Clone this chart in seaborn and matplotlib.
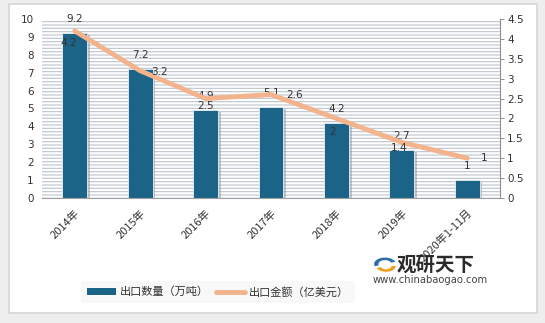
import matplotlib
matplotlib.use('Agg')
import matplotlib.pyplot as plt
import matplotlib.patheffects as pe
import seaborn as sns
import numpy as np
import pandas as pd
from matplotlib.patches import Rectangle, Patch, Wedge
from matplotlib.lines import Line2D

categories = ['2014年', '2015年', '2016年', '2017年', '2018年', '2019年', '2020年1-11月']
volume = [9.2, 7.2, 4.9, 5.1, 4.2, 2.7, 1]
amount = [4.2, 3.2, 2.5, 2.6, 2, 1.4, 1]
left_ticks = [0, 1, 2, 3, 4, 5, 6, 7, 8, 9, 10]
right_ticks = [0, 0.5, 1, 1.5, 2, 2.5, 3, 3.5, 4, 4.5]
legend_labels = ['出口数量（万吨）', '出口金额（亿美元）']

BAR = '#1b6387'
LINE = '#f3b48d'
TXT = '#333333'

sns.set_theme(style='white')
plt.rcParams['font.family'] = ['Noto Sans CJK SC', 'DejaVu Sans']
plt.rcParams['hatch.linewidth'] = 0.8
plt.rcParams['hatch.color'] = '#bcc4ce'

fig = plt.figure(figsize=(5.45, 3.23), dpi=100)
fig.patch.set_facecolor('#eeeeee')
W, H = 545, 323
fig.add_artist(Rectangle((9 / W, 1 - 313 / H), (537 - 9) / W, (313 - 4) / H,
                         transform=fig.transFigure, facecolor='white',
                         edgecolor='#d6d6d6', lw=1.2, zorder=0))

ax = fig.add_axes([42 / W, 1 - 198 / H, (500 - 42) / W, (198 - 19) / H])
ax.set_facecolor('none')
ax.add_patch(Rectangle((0, 0), 1, 1, transform=ax.transAxes, facecolor='white',
                       hatch='-----', edgecolor='#bcc4ce', lw=0, zorder=-5))

df = pd.DataFrame({'cat': categories, 'volume': volume, 'amount': amount})
sns.barplot(data=df, x='cat', y='volume', color=BAR, saturation=1, width=0.38,
            ax=ax, zorder=2)
for p in ax.patches:
    if p.get_height() > 0 and p.get_width() < 1:
        p.set_path_effects([pe.SimplePatchShadow(offset=(2, -1.5), shadow_rgbFace='#7d8a96', alpha=0.45), pe.Normal()])
        p.set_edgecolor('#e8f0f5')
        p.set_linewidth(0.6)

ax.set_ylim(0, 10)
ax.set_xlim(-0.5, len(categories) - 0.5)
ax.set_yticks(left_ticks)
ax.set_yticklabels([str(t) for t in left_ticks], fontsize=7.5, color=TXT, family='DejaVu Sans')
ax.set_xlabel('')
ax.set_ylabel('')
ax.tick_params(axis='y', length=0, pad=6)
ax.tick_params(axis='x', length=0, pad=7)
ax.set_xticks(range(len(categories)))
ax.set_xticklabels(categories, rotation=45, ha='right', rotation_mode='anchor',
                   fontsize=8, color=TXT)
for s in ['left', 'top', 'right']:
    ax.spines[s].set_visible(False)
ax.spines['bottom'].set_color('#a0a0a0')
ax.spines['bottom'].set_linewidth(0.8)

for i, v in enumerate(volume):
    ax.annotate(f'{v:g}', (i, v), xytext=(0, 10), textcoords='offset points',
                ha='center', va='center', fontsize=7.5, color=TXT, family='DejaVu Sans', zorder=6)

ax2 = ax.twinx()
x = np.arange(len(categories))
sns.lineplot(x=x, y=amount, ax=ax2, color=LINE, lw=3.5, sort=False, zorder=4)
ax2.set_ylim(0, 4.5)
ax2.set_yticks(right_ticks)
ax2.set_yticklabels([f'{t:g}' for t in right_ticks], fontsize=7.5, color=TXT, family='DejaVu Sans')
ax2.tick_params(axis='y', length=3, width=0.7, color='#909090', pad=2, direction='out')
for s in ['left', 'top', 'bottom']:
    ax2.spines[s].set_visible(False)
ax2.spines['right'].set_color('#909090')
ax2.spines['right'].set_linewidth(0.8)
ax2.set_ylabel('')

offsets = [(-4, -9), (14, -1), (0, -5.5), (17, 0), (-3, -9.5), (-2, -4), (12, 0)]
for i, (v, o) in enumerate(zip(amount, offsets)):
    ax2.annotate(f'{v:g}', (i, v), xytext=o, textcoords='offset points',
                 ha='center', va='center', fontsize=7.5, color=TXT, family='DejaVu Sans', zorder=6)

handles = [Patch(facecolor=BAR, edgecolor='none'), Line2D([], [], color=LINE, lw=3.5)]
leg = fig.legend(handles, legend_labels, loc='center', bbox_to_anchor=(218 / W, 1 - 292 / H),
                 ncol=2, frameon=True, fontsize=8, handlelength=2.6, handleheight=0.6,
                 columnspacing=0.6, handletextpad=0.4, borderpad=0.5)
leg.get_frame().set_facecolor('#f7f7f7')
leg.get_frame().set_edgecolor('none')
for t in leg.get_texts():
    t.set_color(TXT)

# watermark
fig.text(397 / W, 1 - 265 / H, '观研天下', fontsize=14, fontweight='bold', color='#2b2b2b',
         ha='left', va='center')
fig.text(373 / W, 1 - 280 / H, 'www.chinabaogao.com', fontsize=7.2, color='#444444',
         ha='left', va='center', family='DejaVu Sans')
fig.add_artist(Wedge((385 / W, 1 - 264 / H), 0.02, 20, 200, width=0.008,
                     transform=fig.transFigure, facecolor='#2f6fa8', edgecolor='none'))
fig.add_artist(Wedge((386 / W, 1 - 266 / H), 0.018, 200, 360, width=0.008,
                     transform=fig.transFigure, facecolor='#f0a020', edgecolor='none'))

fig.savefig('out.png', dpi=100, facecolor=fig.get_facecolor())
